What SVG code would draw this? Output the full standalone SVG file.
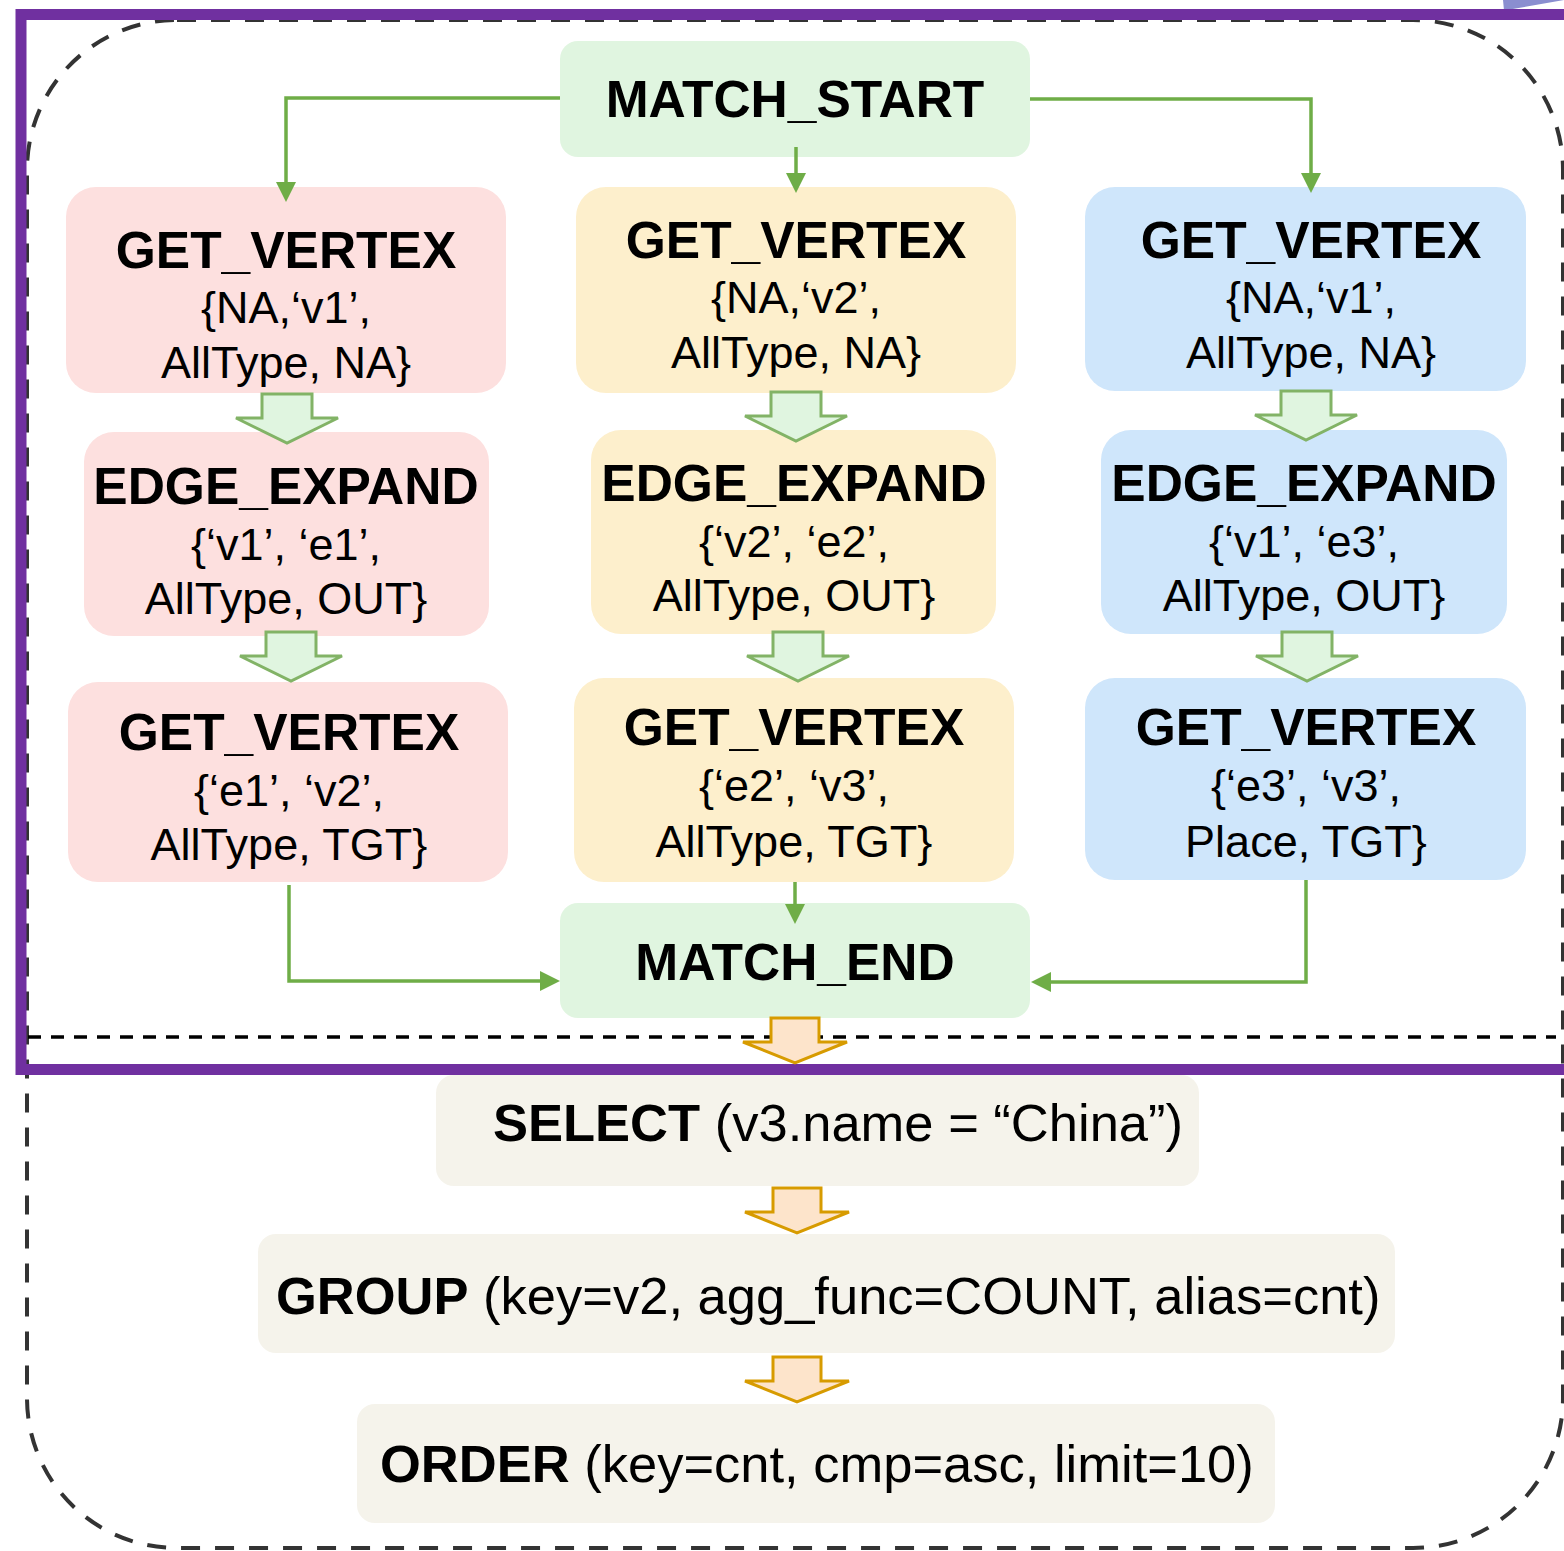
<svg xmlns="http://www.w3.org/2000/svg" xmlns:xlink="http://www.w3.org/1999/xlink" width="1564" height="1551" viewBox="0 0 1564 1551">
  <style>
    text { font-family: "Liberation Sans", Arial, Helvetica, sans-serif; fill: #000; }
    .title { font-size: 51.5px; font-weight: bold; text-anchor: middle; }
    .param { font-size: 45px; text-anchor: middle; }
    .op { font-size: 52.5px; }
    .op .kw { font-weight: bold; }
    .green { fill: #e0f5e0; }
    .red { fill: #fde0df; }
    .yellow { fill: #fdefcc; }
    .blue { fill: #cfe6fb; }
    .beige { fill: #f5f3eb; }
    .conn { fill: none; stroke: #6fad47; stroke-width: 3.5; marker-end: url(#arrow); }
    .step-g { fill: #e0f5e0; stroke: #82b366; stroke-width: 3; stroke-linejoin: miter; }
    .step-o { fill: #fde4cb; stroke: #d79b00; stroke-width: 3; stroke-linejoin: miter; }
  </style>
  <defs>
    <marker id="arrow" viewBox="0 0 20 20" markerWidth="20" markerHeight="20" refX="2" refY="10" orient="auto" markerUnits="userSpaceOnUse">
      <path d="M0,0 L20,10 L0,20 Z" fill="#6fad47"/>
    </marker>
    <path id="down-g" d="M-25,0 H25 V24 H51 L0,49 L-51,24 H-25 Z"/>
    <path id="down-o" d="M-24,0 H24 V24 H52 L0,45 L-52,24 H-24 Z"/>
  </defs>

  <rect width="1564" height="1551" fill="#fff"/>

  <!-- outer frames -->
  <g id="frames">
    <polygon points="1503,0 1564,0 1504,10.5" fill="#8a8ed0"/>
    <rect x="27" y="20" width="1536" height="1528" rx="150" ry="150" fill="none" stroke="#333" stroke-width="4" stroke-dasharray="19 15"/>
    <rect x="21" y="14.5" width="1570" height="1055" fill="none" stroke="#7030a0" stroke-width="11"/>
    <line x1="28" y1="1037" x2="1556" y2="1037" stroke="#000" stroke-width="3.5" stroke-dasharray="13 10"/>
  </g>

  <g id="match_start">
    <rect class="green" x="560" y="41" width="470" height="116" rx="18"/>
    <text class="title" x="795" y="117">MATCH_START</text>
  </g>

  <!-- left chain -->
  <g id="red_get_vertex_1">
    <rect class="red" x="66" y="187" width="440" height="206" rx="30"/>
    <text class="title" x="286" y="268">GET_VERTEX</text>
    <text class="param" x="286" y="323">{NA,‘v1’,</text>
    <text class="param" x="286" y="378">AllType, NA}</text>
  </g>
  <g id="red_edge_expand">
    <rect class="red" x="84" y="432" width="405" height="204" rx="30"/>
    <text class="title" x="286" y="504">EDGE_EXPAND</text>
    <text class="param" x="286" y="560">{‘v1’, ‘e1’,</text>
    <text class="param" x="286" y="614">AllType, OUT}</text>
  </g>
  <g id="red_get_vertex_2">
    <rect class="red" x="68" y="682" width="440" height="200" rx="30"/>
    <text class="title" x="289" y="750">GET_VERTEX</text>
    <text class="param" x="289" y="806">{‘e1’, ‘v2’,</text>
    <text class="param" x="289" y="860">AllType, TGT}</text>
  </g>

  <!-- middle chain -->
  <g id="yellow_get_vertex_1">
    <rect class="yellow" x="576" y="187" width="440" height="206" rx="30"/>
    <text class="title" x="796" y="258">GET_VERTEX</text>
    <text class="param" x="796" y="313">{NA,‘v2’,</text>
    <text class="param" x="796" y="368">AllType, NA}</text>
  </g>
  <g id="yellow_edge_expand">
    <rect class="yellow" x="591" y="430" width="405" height="204" rx="30"/>
    <text class="title" x="794" y="501">EDGE_EXPAND</text>
    <text class="param" x="794" y="557">{‘v2’, ‘e2’,</text>
    <text class="param" x="794" y="611">AllType, OUT}</text>
  </g>
  <g id="yellow_get_vertex_2">
    <rect class="yellow" x="574" y="678" width="440" height="204" rx="30"/>
    <text class="title" x="794" y="745">GET_VERTEX</text>
    <text class="param" x="794" y="801">{‘e2’, ‘v3’,</text>
    <text class="param" x="794" y="857">AllType, TGT}</text>
  </g>

  <!-- right chain -->
  <g id="blue_get_vertex_1">
    <rect class="blue" x="1085" y="187" width="441" height="204" rx="30"/>
    <text class="title" x="1311" y="258">GET_VERTEX</text>
    <text class="param" x="1311" y="313">{NA,‘v1’,</text>
    <text class="param" x="1311" y="368">AllType, NA}</text>
  </g>
  <g id="blue_edge_expand">
    <rect class="blue" x="1101" y="430" width="406" height="204" rx="30"/>
    <text class="title" x="1304" y="501">EDGE_EXPAND</text>
    <text class="param" x="1304" y="557">{‘v1’, ‘e3’,</text>
    <text class="param" x="1304" y="611">AllType, OUT}</text>
  </g>
  <g id="blue_get_vertex_2">
    <rect class="blue" x="1085" y="678" width="441" height="202" rx="30"/>
    <text class="title" x="1306" y="745">GET_VERTEX</text>
    <text class="param" x="1306" y="801">{‘e3’, ‘v3’,</text>
    <text class="param" x="1306" y="857">Place, TGT}</text>
  </g>

  <!-- step arrows inside the match block -->
  <g id="step_arrows">
    <use xlink:href="#down-g" class="step-g" x="287" y="394"/>
    <use xlink:href="#down-g" class="step-g" x="796" y="392"/>
    <use xlink:href="#down-g" class="step-g" x="1306" y="391"/>
    <use xlink:href="#down-g" class="step-g" x="291" y="632"/>
    <use xlink:href="#down-g" class="step-g" x="798" y="632"/>
    <use xlink:href="#down-g" class="step-g" x="1307" y="632"/>
  </g>

  <g id="match_end">
    <rect class="green" x="560" y="903" width="470" height="115" rx="18"/>
    <text class="title" x="795" y="980">MATCH_END</text>
  </g>

  <!-- connectors, drawn over the box edges -->
  <g id="connectors">
    <path class="conn" d="M560,98 H286 V184"/>
    <path class="conn" d="M796,147 V175"/>
    <path class="conn" d="M1030,99 H1311 V175"/>
    <path class="conn" d="M289,885 V981 H542"/>
    <path class="conn" d="M795,882 V906"/>
    <path class="conn" d="M1306,880 V982 H1049"/>
  </g>

  <!-- relational operators -->
  <g id="select">
    <rect class="beige" x="436" y="1075" width="763" height="111" rx="18"/>
    <text class="op" x="493" y="1141"><tspan class="kw">SELECT</tspan> (v3.name = “China”)</text>
  </g>
  <g id="group">
    <rect class="beige" x="258" y="1234" width="1137" height="119" rx="18"/>
    <text class="op" x="276" y="1314"><tspan class="kw">GROUP</tspan> (key=v2, agg_func=COUNT, alias=cnt)</text>
  </g>
  <g id="order">
    <rect class="beige" x="357" y="1404" width="918" height="119" rx="18"/>
    <text class="op" x="380" y="1482"><tspan class="kw">ORDER</tspan> (key=cnt, cmp=asc, limit=10)</text>
  </g>

  <g id="pipeline_arrows">
    <use xlink:href="#down-o" class="step-o" x="795" y="1018"/>
    <use xlink:href="#down-o" class="step-o" x="797" y="1188"/>
    <use xlink:href="#down-o" class="step-o" x="797" y="1357"/>
  </g>
</svg>
